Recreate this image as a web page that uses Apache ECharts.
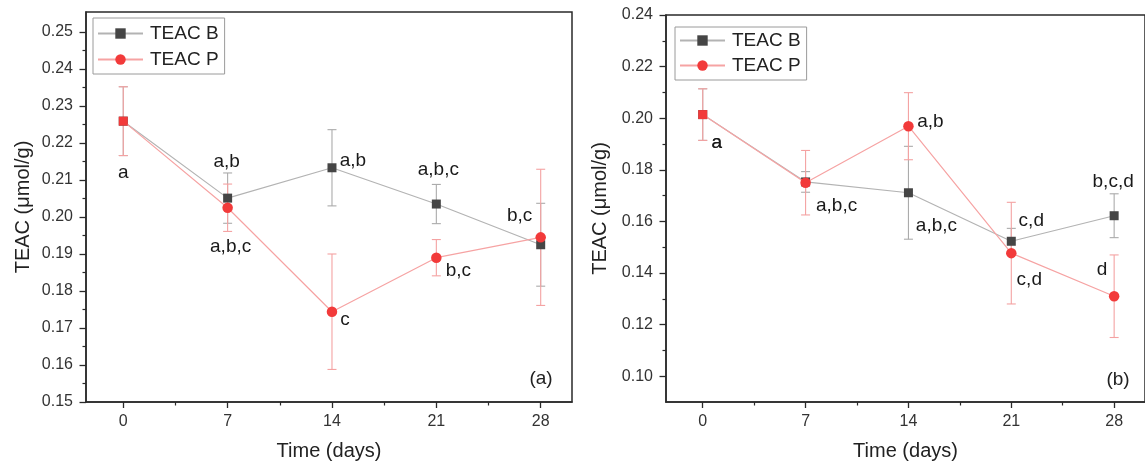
<!DOCTYPE html>
<html><head><meta charset="utf-8">
<script src="https://cdn.jsdelivr.net/npm/echarts@6/dist/echarts.min.js"></script>
<style>html,body{margin:0;padding:0;background:#fff}#c{width:1145px;height:466px}</style>
</head><body><div id="c"></div>
<script>
// ---------------- data ----------------
const days = [0, 7, 14, 21, 28];
const xMajor = [0, 7, 14, 21, 28];
const xMinor = [3.5, 10.5, 17.5, 24.5];

// Panel (a)
const teacB_a = [0.2259, 0.2051, 0.2133, 0.2035, 0.1925];
const sdB_a   = [0.0093, 0.0068, 0.0103, 0.0053, 0.0112];
const teacP_a = [0.2259, 0.2025, 0.1744, 0.1890, 0.1945];
const sdP_a   = [0.0093, 0.0064, 0.0156, 0.0049, 0.0184];
const lettersB_a = ['a', 'a,b', 'a,b', 'a,b,c', 'b,c'];
const lettersP_a = ['', 'a,b,c', 'c', 'b,c', ''];
const yMajor_a = [0.15, 0.16, 0.17, 0.18, 0.19, 0.20, 0.21, 0.22, 0.23, 0.24, 0.25];
const yMinor_a = [0.155, 0.165, 0.175, 0.185, 0.195, 0.205, 0.215, 0.225, 0.235, 0.245];

// Panel (b)
const teacB_b = [0.2014, 0.1753, 0.1711, 0.1523, 0.1622];
const sdB_b   = [0.0100, 0.0040, 0.0180, 0.0050, 0.0085];
const teacP_b = [0.2014, 0.1750, 0.1969, 0.1477, 0.1310];
const sdP_b   = [0.0100, 0.0125, 0.0130, 0.0197, 0.0160];
const lettersB_b = ['a', '', 'a,b,c', 'c,d', 'b,c,d'];
const lettersP_b = ['a', 'a,b,c', 'a,b', 'c,d', 'd'];
const yMajor_b = [0.10, 0.12, 0.14, 0.16, 0.18, 0.20, 0.22, 0.24];
const yMinor_b = [0.11, 0.13, 0.15, 0.17, 0.19, 0.21, 0.23];

// ---------------- layout / style ----------------
const labOffB_a = [[0, 52], [-1, -36], [21, -7], [2, -34], [-21, -29]];
const labOffP_a = [[0, 0], [3, 39], [13, 8], [22, 13], [0, 0]];
const labOffB_b = [[14, 28], [0, 0], [28, 33], [20, -21], [-1, -34]];
const labOffP_b = [[14, 28], [31, 23], [22, -4], [18, 27], [-12, -26]];

const FONT = '"Liberation Sans", Arial, Helvetica, sans-serif';
const AXIS_COLOR = '#2a2a2a';
const GRAY_LINE = '#b3b3b3', GRAY_MARK = '#454545', GRAY_ERR = '#ababab';
const RED_LINE = '#f6a3a3', RED_MARK = '#f23a3a', RED_ERR = '#f4a2a2';

const chart = echarts.init(document.getElementById('c'), null, {renderer: 'canvas'});

function xAxes(gi) {
  return [
    { gridIndex: gi, type: 'value', min: -2.5, max: 30.1, position: 'bottom',
      axisLine: {show: true, onZero: false, lineStyle: {color: AXIS_COLOR, width: 1.5}},
      axisTick: {show: true, inside: false, length: 6, customValues: xMajor, lineStyle: {color: AXIS_COLOR, width: 1.3}},
      axisLabel: {show: true, customValues: xMajor, margin: 12, fontSize: 16, color: '#333', fontFamily: FONT,
                  formatter: v => String(Math.round(v))},
      splitLine: {show: false},
      name: 'Time (days)', nameLocation: 'middle', nameGap: 39,
      nameTextStyle: {fontSize: 20, color: '#222', fontFamily: FONT} },
    { gridIndex: gi, type: 'value', min: -2.5, max: 30.1, position: 'bottom',
      axisLine: {show: false, onZero: false},
      axisTick: {show: true, inside: false, length: 3.5, customValues: xMinor, lineStyle: {color: AXIS_COLOR, width: 1.2}},
      axisLabel: {show: false}, splitLine: {show: false} }
  ];
}
function yAxes(gi, min, max, major, minor, gap) {
  return [
    { gridIndex: gi, type: 'value', min: min, max: max, position: 'left',
      axisLine: {show: true, onZero: false, lineStyle: {color: AXIS_COLOR, width: 1.5}},
      axisTick: {show: true, inside: false, length: 6.5, customValues: major, lineStyle: {color: AXIS_COLOR, width: 1.3}},
      axisLabel: {show: true, customValues: major, margin: 13, fontSize: 16, color: '#333', fontFamily: FONT,
                  formatter: v => v.toFixed(2)},
      splitLine: {show: false},
      name: 'TEAC (\u03bcmol/g)', nameLocation: 'middle', nameGap: gap,
      nameTextStyle: {fontSize: 20, color: '#222', fontFamily: FONT} },
    { gridIndex: gi, type: 'value', min: min, max: max, position: 'left',
      axisLine: {show: false, onZero: false},
      axisTick: {show: true, inside: false, length: 3.5, customValues: minor, lineStyle: {color: AXIS_COLOR, width: 1.2}},
      axisLabel: {show: false}, splitLine: {show: false} }
  ];
}

function errSeries(xs, means, sds, xi, yi, color) {
  return {
    type: 'custom', xAxisIndex: xi, yAxisIndex: yi, silent: true, z: 1,
    data: xs.map((x, i) => [x, means[i] - sds[i], means[i] + sds[i]]),
    renderItem: function (params, api) {
      const x = api.value(0);
      const p1 = api.coord([x, api.value(2)]);
      const p2 = api.coord([x, api.value(1)]);
      const w = 4.5;
      const st = {stroke: color, lineWidth: 1.1};
      return {type: 'group', children: [
        {type: 'line', shape: {x1: p1[0], y1: p1[1], x2: p2[0], y2: p2[1]}, style: st},
        {type: 'line', shape: {x1: p1[0] - w, y1: p1[1], x2: p1[0] + w, y2: p1[1]}, style: st},
        {type: 'line', shape: {x1: p2[0] - w, y1: p2[1], x2: p2[0] + w, y2: p2[1]}, style: st}
      ]};
    }
  };
}

function lineSeries(name, xs, ys, letters, offs, xi, yi, isP) {
  return {
    name: name, type: 'line', xAxisIndex: xi, yAxisIndex: yi, z: isP ? 4 : 3,
    symbol: isP ? 'circle' : 'rect', symbolSize: isP ? 10.5 : 9,
    lineStyle: {color: isP ? RED_LINE : GRAY_LINE, width: 1.2},
    itemStyle: {color: isP ? RED_MARK : GRAY_MARK},
    label: {show: false, position: 'inside', fontSize: 19, color: '#1a1a1a', fontFamily: FONT},
    data: xs.map((x, i) => {
      const item = {value: [x, ys[i]],
        label: {show: !!letters[i], formatter: letters[i] || '', offset: offs[i]}};
      if (isP && i === 0) { item.symbol = 'rect'; item.symbolSize = 9; }
      return item;
    })
  };
}

function legend(left, top, pad, gap) {
  return {
    orient: 'vertical', left: left, top: top,
    data: ['TEAC B', 'TEAC P'],
    itemWidth: 45, itemHeight: 13, itemGap: gap,
    padding: pad,
    borderColor: '#9a9a9a', borderWidth: 1,
    textStyle: {fontSize: 19, color: '#222', fontFamily: FONT, padding: [0, 0, 0, 2]},
    selectedMode: false
  };
}

const option = {
  animation: false,
  backgroundColor: '#fff',
  grid: [
    {left: 86, top: 12, width: 486, height: 391, show: true, borderColor: AXIS_COLOR, borderWidth: 1.5, backgroundColor: 'transparent'},
    {left: 666, top: 15, width: 483, height: 388, show: true, borderColor: AXIS_COLOR, borderWidth: 1.5, backgroundColor: 'transparent'}
  ],
  xAxis: [...xAxes(0), ...xAxes(1)],
  yAxis: [...yAxes(0, 0.15, 0.2554, yMajor_a, yMinor_a, 53), ...yAxes(1, 0.09, 0.24, yMajor_b, yMinor_b, 56)],
  legend: [legend(93, 18, [6, 6, 5, 4], 7), legend(675, 27, [4, 6, 5, 4], 6)],
  graphic: [
    {type: 'text', x: 541, y: 379, style: {text: '(a)', font: '19px ' + FONT, fill: '#222', align: 'center', verticalAlign: 'middle'}},
    {type: 'text', x: 1118, y: 380, style: {text: '(b)', font: '19px ' + FONT, fill: '#222', align: 'center', verticalAlign: 'middle'}}
  ],
  series: [
    errSeries(days, teacB_a, sdB_a, 0, 0, GRAY_ERR),
    errSeries(days, teacP_a, sdP_a, 0, 0, RED_ERR),
    lineSeries('TEAC B', days, teacB_a, lettersB_a, labOffB_a, 0, 0, false),
    lineSeries('TEAC P', days, teacP_a, lettersP_a, labOffP_a, 0, 0, true),
    errSeries(days, teacB_b, sdB_b, 2, 2, GRAY_ERR),
    errSeries(days, teacP_b, sdP_b, 2, 2, RED_ERR),
    lineSeries('TEAC B', days, teacB_b, lettersB_b, labOffB_b, 2, 2, false),
    lineSeries('TEAC P', days, teacP_b, lettersP_b, labOffP_b, 2, 2, true)
  ]
};
chart.setOption(option);
</script>
</body></html>
